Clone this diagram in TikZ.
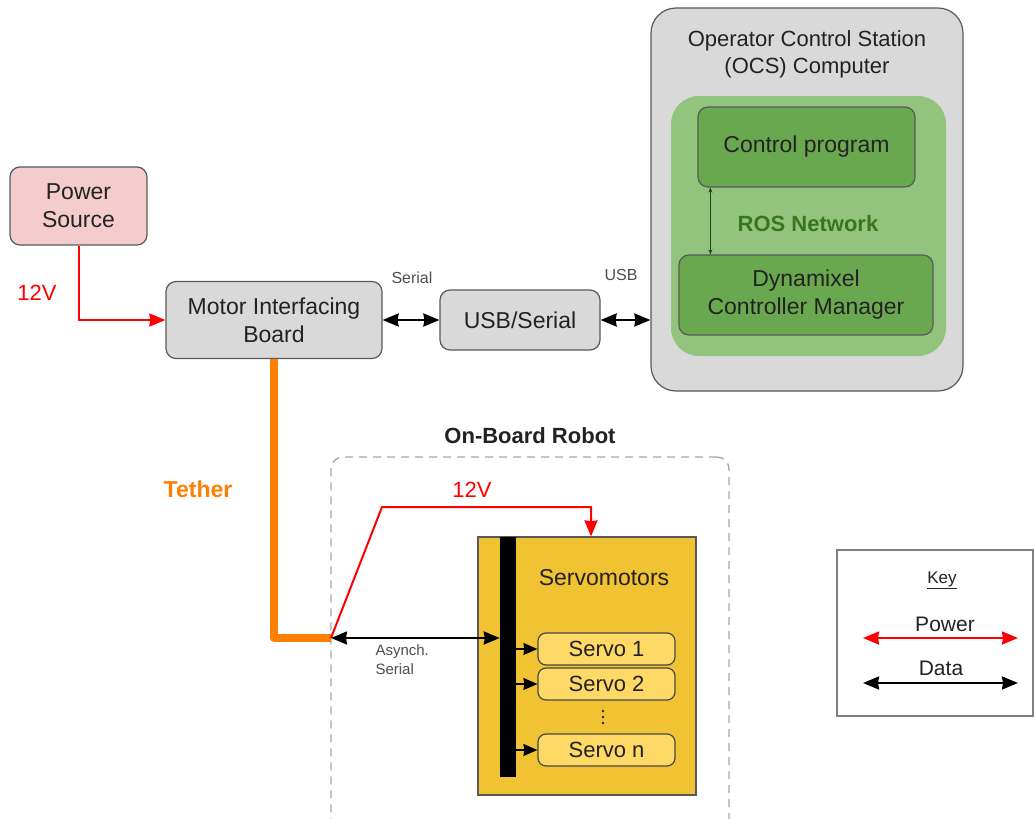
\documentclass[tikz,border=0pt]{standalone}
\usepackage{fontspec}
\setmainfont{Liberation Sans}
\usetikzlibrary{arrows.meta,calc}
\definecolor{pinkc}{HTML}{F4CCCC}
\definecolor{greyc}{HTML}{D9D9D9}
\definecolor{borderc}{HTML}{595959}
\definecolor{lgreen}{HTML}{93C47D}
\definecolor{mgreen}{HTML}{6AA84F}
\definecolor{dgreen}{HTML}{38761D}
\definecolor{gold}{HTML}{F1C232}
\definecolor{lgold}{HTML}{FFD966}
\definecolor{orangec}{HTML}{FF7F00}
\definecolor{txt}{HTML}{222222}
\definecolor{redc}{HTML}{FF0000}
\begin{document}
\begin{tikzpicture}[x=1pt,y=-1pt,
  box/.style={draw=borderc, line width=1.2pt, rounded corners=10pt, align=center, text=txt,
    font=\fontsize{23}{28}\selectfont, inner sep=0pt},
  servobox/.style={draw=borderc!80!black, line width=1.2pt, rounded corners=8pt, fill=lgold, text=txt,
    font=\fontsize{22}{26}\selectfont, minimum width=137pt, minimum height=32pt, inner sep=0pt},
  power/.style={draw=redc, line width=2pt},
  bigtip/.tip={Stealth[length=16pt,width=13pt,inset=1pt]},
  data/.style={draw=black, line width=2.2pt, {bigtip}-{bigtip}},
  small/.style={font=\fontsize{16}{20}\selectfont, text=txt!80!white, align=left},
  ptip/.style={-{bigtip}},
]
\useasboundingbox (0,0) rectangle (1034,819);

% Power source and motor board
\node[box, fill=pinkc, minimum width=137pt, minimum height=78pt] (ps) at (78.5,206) {Power\\Source};
\node[box, fill=greyc, minimum width=216pt, minimum height=77pt] (mib) at (274,320) {Motor Interfacing\\Board};
\node[box, fill=greyc, minimum width=160pt, minimum height=60pt] (usb) at (520,320) {USB/Serial};
\draw[power, ptip] (ps.south) |- (mib.west);
\node[text=redc, font=\fontsize{22}{26}\selectfont] (v1) at (37,293) {12V};

% OCS
\node[draw=borderc, line width=1.2pt, rounded corners=25pt, fill=greyc, minimum width=312pt, minimum height=383pt] (ocs) at (807,199.5) {};
\node[align=center, text=txt, font=\fontsize{22}{27}\selectfont] (ocst) at (807,54) {Operator Control Station\\(OCS) Computer};
\node[fill=lgreen, rounded corners=28pt, minimum width=275pt, minimum height=260pt] (ros) at (808.5,226) {};
\node[box, fill=mgreen, minimum width=217pt, minimum height=80pt] (cp) at (806.5,147) {Control program};
\node[box, fill=mgreen, minimum width=254pt, minimum height=80pt] (dcm) at (806,295) {Dynamixel\\Controller Manager};
\node[text=dgreen, font=\bfseries\fontsize{22}{26}\selectfont] (rost) at (808,224) {ROS Network};
\coordinate (ca) at ($(cp.south west)+(13,0)$);
\draw[line width=0.8pt, draw=dgreen!60!black, {Stealth[length=5pt,width=4pt]}-{Stealth[length=5pt,width=4pt]}] (ca) -- (ca |- dcm.north);

% data links
\draw[data] (mib.east) -- (usb.west);
\draw[data] (usb.east) -- (usb.east -| ocs.west);
\node[small] (lser) at (412,278) {Serial};
\node[small] (lusb) at (621,275) {USB};

% Robot
\node[draw=gray!70, dash pattern=on 8pt off 6pt, line width=1.3pt, rounded corners=12pt, minimum width=398pt, minimum height=400pt] (robot) at (530,657) {};
\node[text=txt, font=\bfseries\fontsize{22}{26}\selectfont] (robt) at (530,436) {On-Board Robot};
\coordinate (tj) at (331,638);
\draw[draw=orangec, line width=8pt, line join=round] (mib.south) |- (tj);
\node[text=orangec, font=\bfseries\fontsize{23}{27}\selectfont] (teth) at (198,489) {Tether};

\node[draw=borderc, line width=1.2pt, fill=gold, minimum width=218pt, minimum height=258pt] (sm) at (587,666) {};
\node[fill=black, minimum width=16pt, minimum height=240pt, inner sep=0pt] (bar) at (508,657) {};
\node[text=txt, font=\fontsize{23}{27}\selectfont] (smt) at (604,578) {Servomotors};
\coordinate (r1) at (382,507);
\coordinate (r2) at (591,507);
\draw[power, ptip] (tj) -- (r1) -- (r2) -- (r2 |- sm.north);
\node[text=redc, font=\fontsize{22}{26}\selectfont] (v2) at (472,490) {12V};
\draw[data] (tj) -- (tj -| bar.west);
\node[small, font=\fontsize{15}{19}\selectfont, anchor=west] (async) at (372,660) {Asynch.\\Serial};

\node[servobox] (s1) at (606.5,649) {Servo 1};
\node[servobox] (s2) at (606.5,684) {Servo 2};
\node[servobox] (sn) at (606.5,750) {Servo n};
\foreach \yy in {711,717,723}
  \fill[txt] (603,\yy) circle (1.3pt);
\foreach \s in {s1,s2,sn}
  \draw[line width=1.4pt, -{Stealth[length=14pt,width=12pt,inset=1pt]}] (bar.east |- \s.west) -- (\s.west);

% Key
\node[draw=gray, line width=1.2pt, fill=white, minimum width=196pt, minimum height=166pt] (key) at (935,633) {};
\node[text=txt, font=\fontsize{17}{20}\selectfont] (keyt) at (942,580) {\underline{Key}};
\node[text=txt, font=\fontsize{21}{25}\selectfont] (kp) at (945,624) {Power};
\node[text=txt, font=\fontsize{21}{25}\selectfont] (kd) at (941,668) {Data};
\coordinate (kp1) at (863,638);
\coordinate (kp2) at (1018,638);
\coordinate (kd1) at (863,683);
\coordinate (kd2) at (1018,683);
\draw[power, {bigtip}-{bigtip}] (kp1) -- (kp2);
\draw[data] (kd1) -- (kd2);
\end{tikzpicture}
\end{document}
